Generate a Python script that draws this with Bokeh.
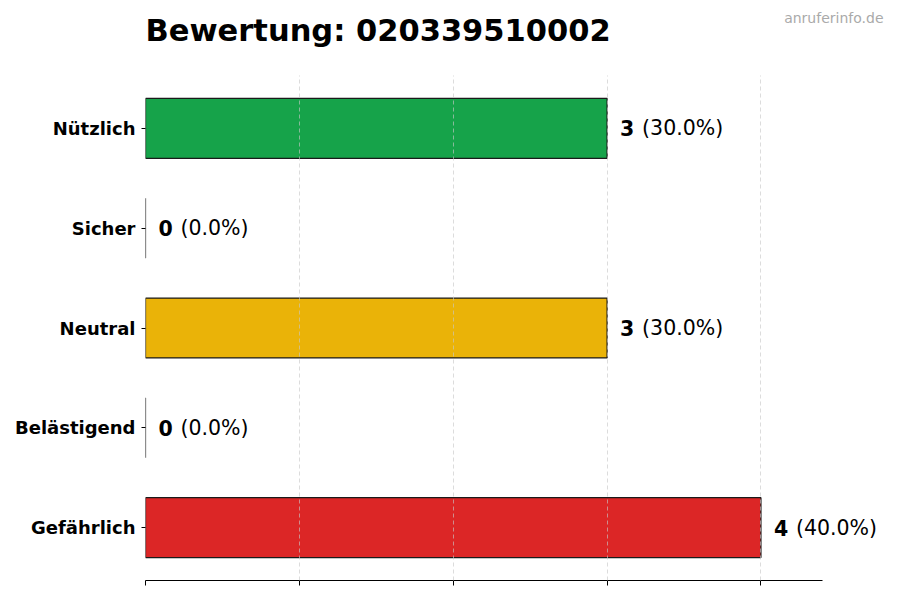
from bokeh.plotting import figure
from bokeh.layouts import column
from bokeh.models import ColumnDataSource, FixedTicker, Range1d, CustomLabelingPolicy
from bokeh.embed import file_html
from bokeh.resources import INLINE
from bokeh.core.properties import value

categories = ["Nützlich", "Sicher", "Neutral", "Belästigend", "Gefährlich"]
counts = [3, 0, 3, 0, 4]
colors = ["#16a34a", "#ffffff", "#eab308", "#ffffff", "#dc2626"]
title_text = "Bewertung: 020339510002"
watermark = "anruferinfo.de"

total = sum(counts)
n = len(categories)
ypos = [n - 1 - i for i in range(n)]
num_labels = [str(c) for c in counts]
pct_labels = ["(%.1f%%)" % (100.0 * c / total) for c in counts]

FONT = "DejaVu Sans"
W = 900
HEADER_H = 75
MAIN_H = 600 - HEADER_H
PLOT_LEFT = 145      # left edge of the bar area (px)
AXIS_RIGHT = 822     # where the x axis ends (px)
FRAME_RIGHT = 892    # room for the value labels (px)

# ---------- header (title + watermark) ----------
hdr = figure(width=W, height=HEADER_H, output_backend="svg", toolbar_location=None,
             x_range=Range1d(PLOT_LEFT, FRAME_RIGHT), y_range=Range1d(HEADER_H, 0),
             x_axis_location=None, y_axis_location=None,
             min_border_left=PLOT_LEFT, min_border_right=W - FRAME_RIGHT,
             min_border_top=0, min_border_bottom=0)
hdr.outline_line_color = None
hdr.xgrid.visible = False
hdr.ygrid.visible = False
hdr.text(x=[PLOT_LEFT], y=[30], text=[title_text], text_font=value(FONT),
         text_font_size="30.5px", text_font_style="bold", text_color="black",
         text_align="left", text_baseline="middle")
hdr.text(x=[883], y=[17], text=[watermark], text_font=value(FONT),
         text_font_size="14px", text_font_style="normal", text_color="#aaaaaa",
         text_align="right", text_baseline="middle")

# ---------- main chart ----------
xmax = max(counts) * 1.1
x_end = xmax * (FRAME_RIGHT - PLOT_LEFT) / (AXIS_RIGHT - PLOT_LEFT)

src = ColumnDataSource(dict(y=ypos, cnt=counts, color=colors, num=num_labels, pct=pct_labels))

p = figure(width=W, height=MAIN_H, output_backend="svg", toolbar_location=None,
           x_range=Range1d(0, x_end), y_range=Range1d(-0.53, n - 1 + 0.53),
           min_border_left=PLOT_LEFT, min_border_right=W - FRAME_RIGHT,
           min_border_top=0, min_border_bottom=20)
p.outline_line_color = None
p.background_fill_color = "white"

p.hbar(y="y", left=0, right="cnt", height=0.6, source=src, fill_color="color",
       fill_alpha=1.0, line_color="#1a1a1a", line_width=1.2)

p.text(x="cnt", y="y", text="num", source=src, x_offset=13, text_baseline="middle",
       text_align="left", text_font=value(FONT), text_font_size="20.5px",
       text_font_style="bold", text_color="black")
p.text(x="cnt", y="y", text="pct", source=src, x_offset=35, text_baseline="middle",
       text_align="left", text_font=value(FONT), text_font_size="20.5px",
       text_font_style="normal", text_color="black")

# x axis: ticks only, no labels
p.xaxis.ticker = FixedTicker(ticks=list(range(0, max(counts) + 1)))
p.xaxis.bounds = (0, xmax)
p.xaxis.major_label_policy = CustomLabelingPolicy(code="""
    for (const i of indices) { indices.unset(i) }
    return indices
""")
p.xaxis.major_label_standoff = 0
p.xaxis.major_tick_out = 5
p.xaxis.major_tick_in = 0
p.xaxis.minor_tick_line_color = None
p.xaxis.axis_line_color = "black"
p.xaxis.axis_line_width = 1.2
p.xaxis.major_tick_line_color = "black"

# y axis
p.yaxis.ticker = FixedTicker(ticks=ypos)
p.yaxis.major_label_overrides = {y: c for y, c in zip(ypos, categories)}
p.yaxis.major_label_text_font = FONT
p.yaxis.major_label_text_font_size = "18px"
p.yaxis.major_label_text_font_style = "bold"
p.yaxis.major_label_text_color = "black"
p.yaxis.major_label_standoff = 6
p.yaxis.major_tick_out = 4
p.yaxis.major_tick_in = 0
p.yaxis.minor_tick_line_color = None
p.yaxis.axis_line_color = None
p.yaxis.major_tick_line_color = "black"

p.xgrid.ticker = FixedTicker(ticks=list(range(0, max(counts) + 1)))
p.xgrid.grid_line_color = "#c8c8c8"
p.xgrid.grid_line_alpha = 0.8
p.xgrid.grid_line_dash = "4 3"
p.xgrid.grid_line_width = 0.8
p.xgrid.level = "overlay"
p.ygrid.grid_line_color = None

layout = column(hdr, p, spacing=0)
open("out.html", "w").write(file_html(layout, INLINE))
